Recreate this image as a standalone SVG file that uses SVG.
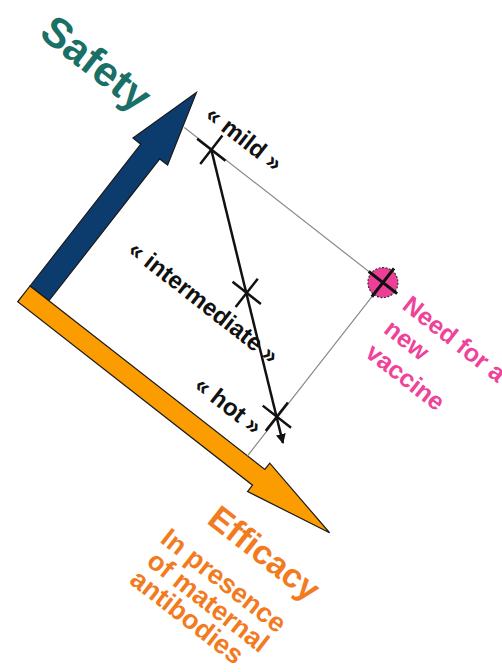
<svg xmlns="http://www.w3.org/2000/svg" width="502" height="672" viewBox="0 0 502 672">
<style>
.lbl{font-family:"Liberation Sans",Arial,sans-serif;font-weight:bold;}
.blk{font-size:24px;fill:#111;}
.pink{font-size:25px;fill:#ef429a;}
.org{fill:#f27b1f;}
.cross{stroke:#111;stroke-width:2.5;fill:none;}
.grey{stroke:#8a8a8a;stroke-width:1.2;fill:none;}
</style>
<defs>
<marker id="tip" viewBox="0 0 10 10" refX="9" refY="5" markerWidth="4" markerHeight="4" orient="auto" markerUnits="strokeWidth">
<path d="M0,0 L10,5 L0,10 Z" fill="#111"/>
</marker>
</defs>
<rect width="502" height="672" fill="#fff"/>
<g transform="translate(30,286) rotate(38)">
  <g id="safety-axis">
    <path d="M0,0 L0,-180 L-10,-180 L12,-255 L34,-180 L24,-180 L24,0 Z" fill="#0c3b6d" stroke="#1a1a1a" stroke-width="1.2" stroke-linejoin="miter"/>
    <text class="lbl" x="-148" y="-202" font-size="42" fill="#1a6f66">Safety</text>
  </g>
  <g id="efficacy-axis">
    <path d="M0,0 L298,0 L298,-8 L388,10 L298,28 L298,20 L0,20 Z" fill="#fb9d00" stroke="#1a1a1a" stroke-width="1.2"/>
    <text class="lbl org" x="284" y="78" font-size="34">Efficacy</text>
    <text class="lbl org" font-size="27"><tspan x="259" y="122">In presence</tspan><tspan x="262" y="148">of maternal</tspan><tspan x="260" y="173">antibodies</tspan></text>
  </g>
  <g id="connectors">
    <path class="grey" d="M24,-220 L276,-220 L276,0"/>
    <path d="M59,-219 L296,-32" stroke="#111" stroke-width="2.5" fill="none" marker-end="url(#tip)"/>
  </g>
  <g id="mild">
    <path class="cross" d="M41,-219 H77 M59,-237 V-201"/>
    <text class="lbl blk" x="78" y="-240" text-anchor="middle">« mild »</text>
  </g>
  <g id="intermediate">
    <path class="cross" d="M157,-128 H193 M175,-146 V-110"/>
    <text class="lbl blk" x="147" y="-86" text-anchor="middle">« intermediate »</text>
  </g>
  <g id="hot">
    <path class="cross" d="M257,-49 H293 M275,-67 V-31"/>
    <text class="lbl blk" x="230" y="-20" text-anchor="middle">« hot »</text>
  </g>
  <g id="new-vaccine">
    <circle cx="276" cy="-220" r="15" fill="#ee3f98" stroke="#333" stroke-width="1.2" stroke-dasharray="2 1.5"/>
    <path d="M258,-220 H294 M276,-238 V-202" stroke="#111" stroke-width="3" fill="none"/>
    <text class="lbl pink"><tspan x="306" y="-211">Need for a</tspan><tspan x="306" y="-181">new</tspan><tspan x="306" y="-151">vaccine</tspan></text>
  </g>
</g>
</svg>
